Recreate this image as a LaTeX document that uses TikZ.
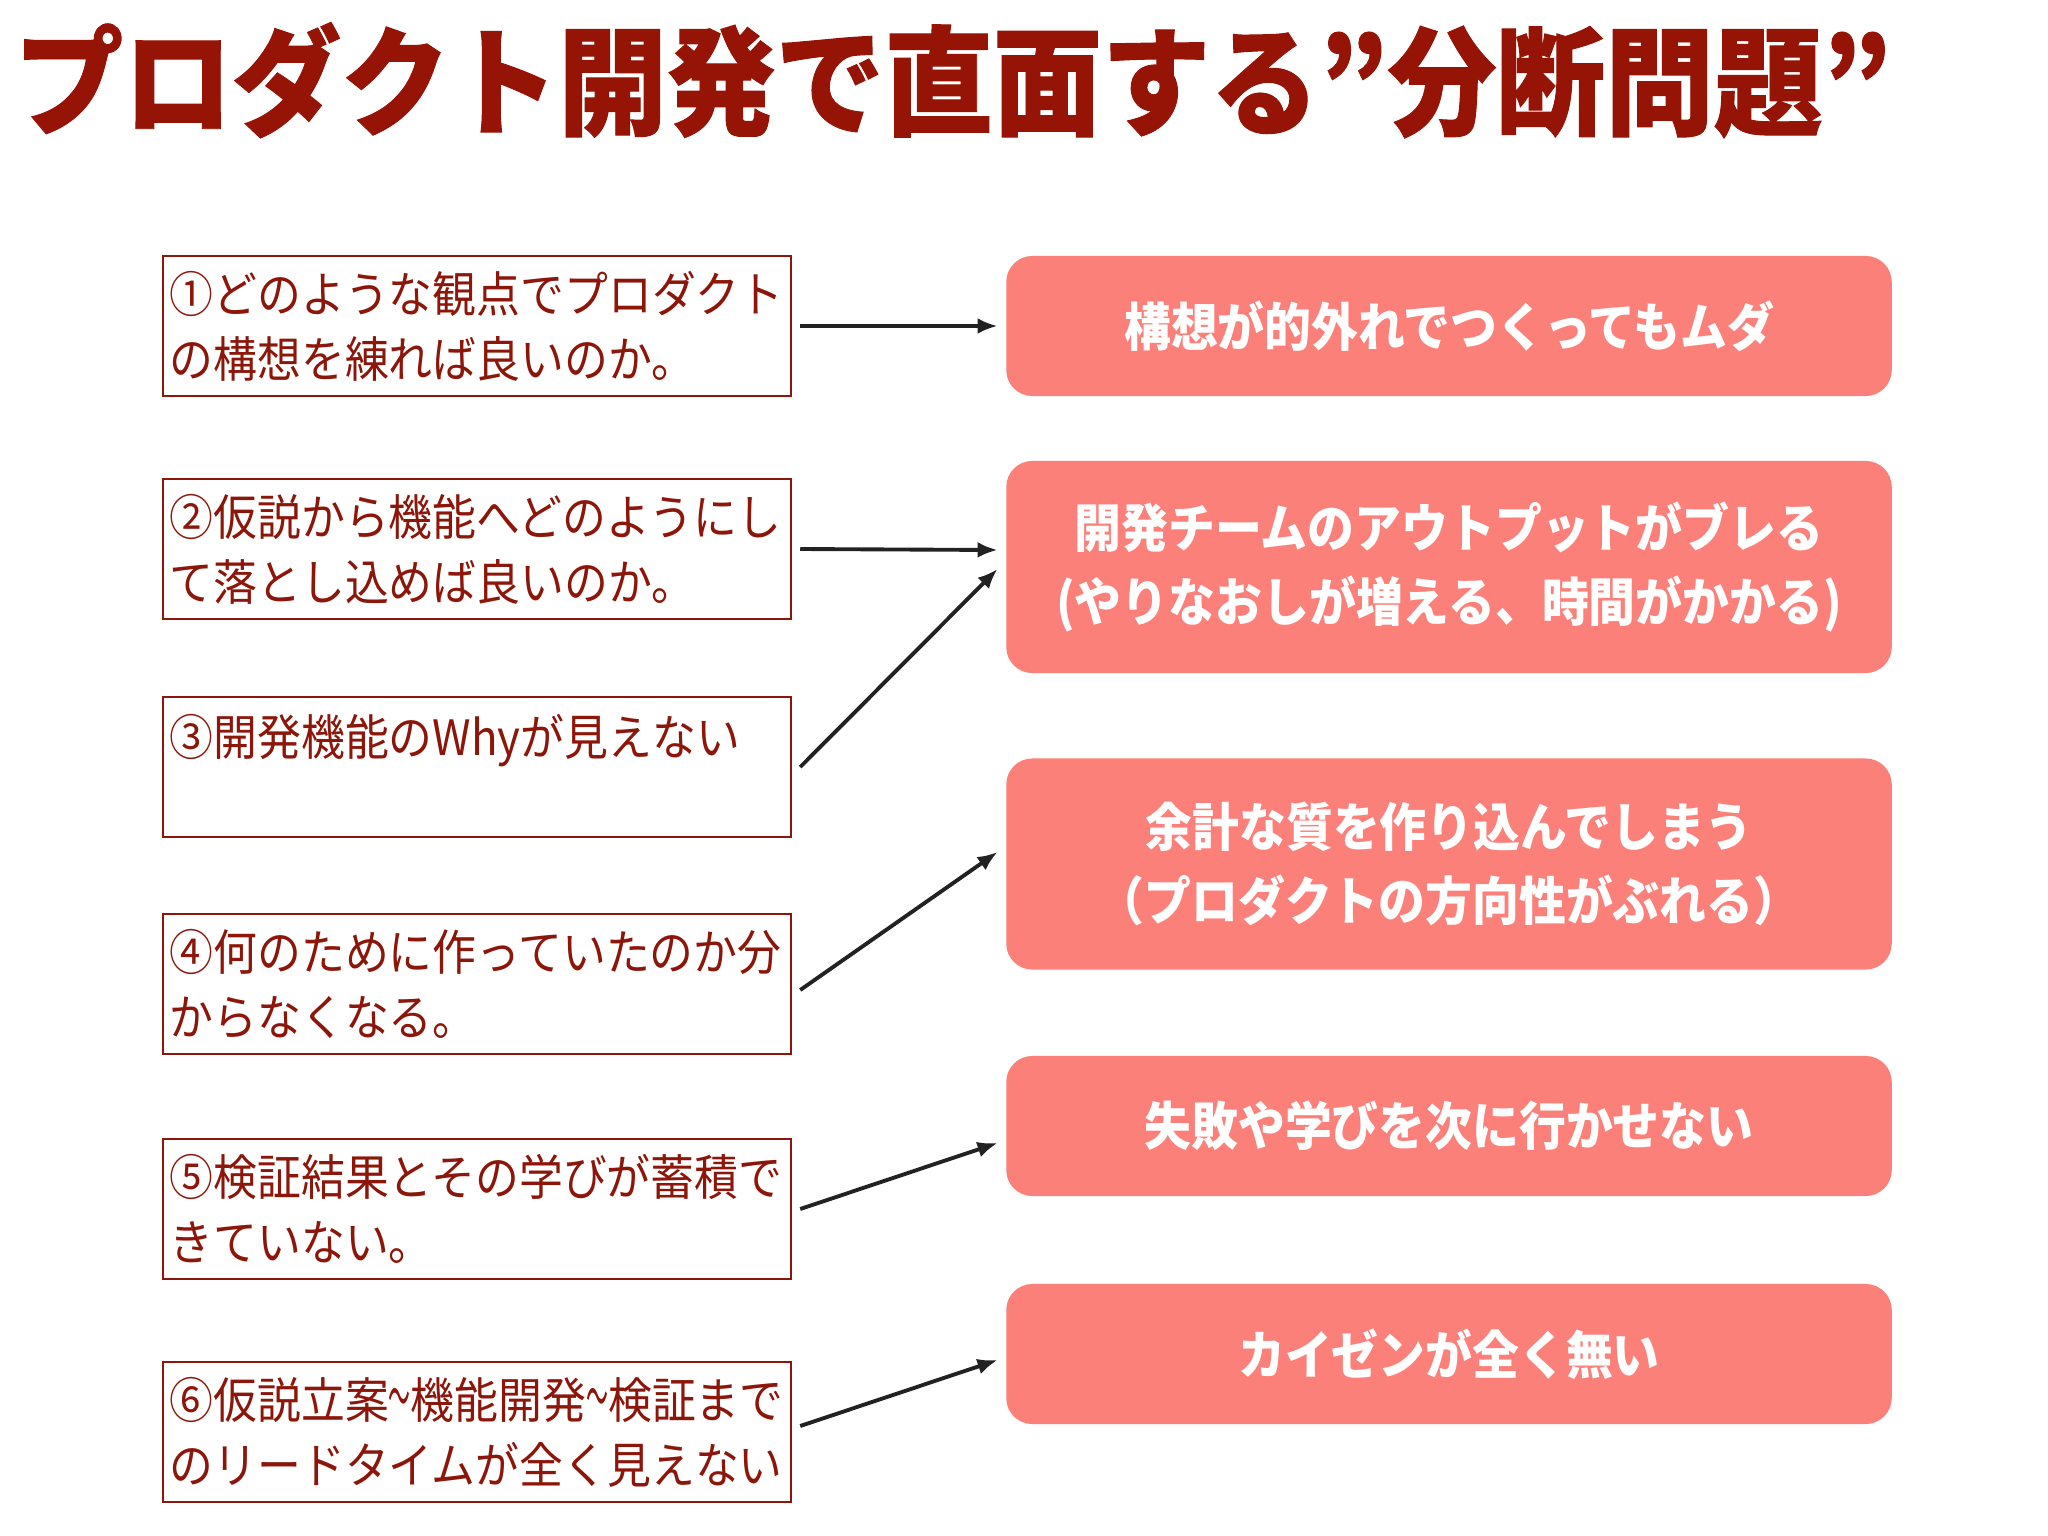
\documentclass[tikz,border=0pt]{standalone}
\usepackage{fontspec}
\usepackage{tikz}
\usetikzlibrary{shapes,arrows.meta,calc}
\newfontfamily\jpfont[FakeStretch=0.9]{Noto Sans CJK JP}
\newfontfamily\jptitle[FakeStretch=0.92,BoldFeatures={FakeBold=0.8}]{Noto Sans CJK JP}
\definecolor{titlered}{RGB}{150,20,5}
\definecolor{textred}{RGB}{140,22,10}
\definecolor{effectcolor}{RGB}{252,128,122}
\definecolor{arrowgray}{RGB}{34,34,34}
\newcommand{\wave}{\scalebox{0.5}[1.2]{〜}}
\tikzstyle{problem} = [draw=textred, line width=0.6pt, rectangle, minimum height=1.4cm, minimum width=6.28cm, text width=6.14cm, inner xsep=0.07cm, align=left, text=textred, font=\jpfont\fontsize{13.85pt}{18.5pt}\selectfont]
\tikzstyle{effect} = [fill=effectcolor, rounded corners=0.26cm, rectangle, minimum height=1.4cm, minimum width=8.85cm, align=center, text=white, font=\jpfont\bfseries\fontsize{14.8pt}{20.8pt}\selectfont]
\tikzstyle{link} = [-{Latex[length=0.2cm,width=0.16cm]}, line width=1.1pt, draw=arrowgray]
\begin{document}
\begin{tikzpicture}[x=0.01cm, y=-0.01cm]
\useasboundingbox (0,0) rectangle (2048,1536);

%% Title %%
\node [anchor=base west, inner sep=0, text=titlered, font=\jptitle\bfseries\fontsize{33.6pt}{40pt}\selectfont] (Title) at (14,126) {プロダクト開発で直面する”分断問題”};

%% Problems %%
\node [problem] (Problem1) at (477,326) {①どのような観点でプロダクト\\の構想を練れば良いのか。};
\node [problem] (Problem2) at ($(Problem1)+(0,223)$) {②仮説から機能へどのようにし\\て落とし込めば良いのか。};
\node [problem] (Problem3) at ($(Problem2)+(0,218)$) {③開発機能のWhyが見えない\\\mbox{}};
\node [problem] (Problem4) at ($(Problem3)+(0,217)$) {④何のために作っていたのか分\\からなくなる。};
\node [problem] (Problem5) at ($(Problem4)+(0,225)$) {⑤検証結果とその学びが蓄積で\\きていない。};
\node [problem] (Problem6) at ($(Problem5)+(0,223)$) {⑥仮説立案\wave 機能開発\wave 検証まで\\のリードタイムが全く見えない};

%% Effects %%
\node [effect] (Effect1) at (1449,326) {構想が的外れでつくってもムダ};
\node [effect, minimum height=2.12cm] (Effect2) at ($(Effect1)+(0,241)$) {開発チームのアウトプットがブレる\\(やりなおしが増える、時間がかかる)};
\node [effect, minimum height=2.11cm] (Effect3) at ($(Effect2)+(0,297)$) {余計な質を作り込んでしまう\\（プロダクトの方向性がぶれる）};
\node [effect] (Effect4) at ($(Effect3)+(0,262)$) {失敗や学びを次に行かせない};
\node [effect] (Effect5) at ($(Effect4)+(0,228)$) {カイゼンが全く無い};

%% Connections %%
\draw[link] ($(Problem1.east)+(8,0)$) -- ($(Effect1.west)+(-8,0)$);
\draw[link] ($(Problem2.east)+(8,0)$) -- ($(Effect2.west)+(-8,-17)$);
\draw[link] ($(Problem3.east)+(8,0)$) -- ($(Effect2.west)+(-8,2)$);
\draw[link] ($(Problem4.east)+(8,6)$) -- ($(Effect3.west)+(-8,-12)$);
\draw[link] ($(Problem5.east)+(8,0)$) -- ($(Effect4.west)+(-8,17)$);
\draw[link] ($(Problem6.east)+(8,-6)$) -- ($(Effect5.west)+(-8,6)$);
\end{tikzpicture}
\end{document}
